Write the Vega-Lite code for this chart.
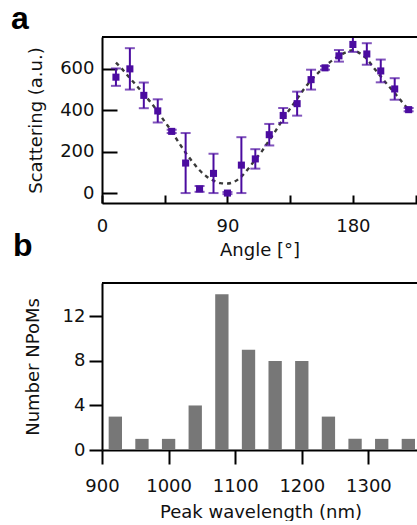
{
  "$schema": "https://vega.github.io/schema/vega-lite/v6.json",
  "background": "white",
  "padding": {"left": 11, "top": 3, "right": 0, "bottom": 0},
  "bounds": "flush",
  "spacing": 80,
  "datasets": {
    "fit": [
      {"angle": 10, "v": 630}, {"angle": 15, "v": 595}, {"angle": 20, "v": 555}, {"angle": 25, "v": 518},
      {"angle": 30, "v": 478}, {"angle": 35, "v": 438}, {"angle": 40, "v": 393}, {"angle": 45, "v": 345},
      {"angle": 50, "v": 298}, {"angle": 55, "v": 245}, {"angle": 60, "v": 195}, {"angle": 65, "v": 150},
      {"angle": 70, "v": 110}, {"angle": 75, "v": 80}, {"angle": 80, "v": 60}, {"angle": 85, "v": 48},
      {"angle": 90, "v": 46}, {"angle": 95, "v": 55}, {"angle": 100, "v": 80}, {"angle": 105, "v": 118},
      {"angle": 110, "v": 162}, {"angle": 115, "v": 205}, {"angle": 120, "v": 255}, {"angle": 125, "v": 305},
      {"angle": 130, "v": 358}, {"angle": 135, "v": 408}, {"angle": 140, "v": 455}, {"angle": 145, "v": 503},
      {"angle": 150, "v": 545}, {"angle": 155, "v": 580}, {"angle": 160, "v": 612}, {"angle": 165, "v": 640},
      {"angle": 170, "v": 662}, {"angle": 175, "v": 680}, {"angle": 180, "v": 690}, {"angle": 185, "v": 675},
      {"angle": 190, "v": 648}, {"angle": 195, "v": 605}, {"angle": 200, "v": 563}, {"angle": 205, "v": 522},
      {"angle": 210, "v": 483}, {"angle": 215, "v": 442}, {"angle": 220, "v": 403}
    ],
    "pts": [
      {"angle": 10, "v": 560, "lo": 518, "hi": 602},
      {"angle": 20, "v": 600, "lo": 500, "hi": 700},
      {"angle": 30, "v": 472, "lo": 410, "hi": 534},
      {"angle": 40, "v": 397, "lo": 341, "hi": 453},
      {"angle": 50, "v": 298, "lo": 290, "hi": 306},
      {"angle": 60, "v": 145, "lo": 0, "hi": 290},
      {"angle": 70, "v": 20, "lo": 6, "hi": 34},
      {"angle": 80, "v": 95, "lo": 0, "hi": 190},
      {"angle": 90, "v": 0, "lo": -5, "hi": 5},
      {"angle": 100, "v": 135, "lo": 0, "hi": 270},
      {"angle": 110, "v": 165, "lo": 118, "hi": 212},
      {"angle": 120, "v": 282, "lo": 230, "hi": 334},
      {"angle": 130, "v": 375, "lo": 339, "hi": 411},
      {"angle": 140, "v": 432, "lo": 374, "hi": 490},
      {"angle": 150, "v": 548, "lo": 500, "hi": 596},
      {"angle": 160, "v": 605, "lo": 596, "hi": 614},
      {"angle": 170, "v": 663, "lo": 635, "hi": 691},
      {"angle": 180, "v": 718, "lo": 682, "hi": 754},
      {"angle": 190, "v": 672, "lo": 620, "hi": 724},
      {"angle": 200, "v": 590, "lo": 535, "hi": 645},
      {"angle": 210, "v": 503, "lo": 451, "hi": 555},
      {"angle": 220, "v": 403, "lo": 395, "hi": 411}
    ],
    "hist": [
      {"start": 910, "end": 930, "n": 3},
      {"start": 950, "end": 970, "n": 1},
      {"start": 990, "end": 1010, "n": 1},
      {"start": 1030, "end": 1050, "n": 4},
      {"start": 1070, "end": 1090, "n": 14},
      {"start": 1110, "end": 1130, "n": 9},
      {"start": 1150, "end": 1170, "n": 8},
      {"start": 1190, "end": 1210, "n": 8},
      {"start": 1230, "end": 1250, "n": 3},
      {"start": 1270, "end": 1290, "n": 1},
      {"start": 1310, "end": 1330, "n": 1},
      {"start": 1350, "end": 1370, "n": 1}
    ]
  },
  "vconcat": [
    {
      "width": 315,
      "height": 166,
      "title": {"text": "a", "anchor": "start", "frame": "group", "dx": -91, "fontSize": 32, "fontWeight": "bold", "font": "Liberation Sans", "color": "black", "offset": 0},
      "layer": [
        {
          "data": {"name": "fit"},
          "mark": {"type": "line", "color": "#3a3a3a", "strokeWidth": 2.4, "strokeDash": [4, 4], "interpolate": "monotone", "clip": true},
          "encoding": {
            "x": {"field": "angle", "type": "quantitative", "scale": {"domain": [0, 226], "nice": false, "zero": false},
              "axis": {"title": "Angle [°]", "values": [0, 45, 90, 135, 180, 225], "labelExpr": "datum.value % 90 === 0 ? datum.label : ''", "tickSize": -8, "labelPadding": 22, "titlePadding": 6}},
            "y": {"field": "v", "type": "quantitative", "title": "Scattering (a.u.)", "scale": {"domain": [-48, 754], "nice": false, "zero": false},
              "axis": {"values": [0, 200, 400, 600], "tickSize": -15, "labelPadding": 23, "titlePadding": 14}}
          }
        },
        {
          "data": {"name": "pts"},
          "mark": {"type": "errorbar", "color": "#4b0ca0", "thickness": 2, "ticks": {"size": 10, "thickness": 2, "color": "#4b0ca0"}, "clip": true},
          "encoding": {
            "x": {"field": "angle", "type": "quantitative"},
            "y": {"field": "lo", "type": "quantitative", "title": "Scattering (a.u.)"},
            "y2": {"field": "hi"}
          }
        },
        {
          "data": {"name": "pts"},
          "mark": {"type": "square", "color": "#4b0ca0", "opacity": 1, "size": 50, "clip": true},
          "encoding": {
            "x": {"field": "angle", "type": "quantitative"},
            "y": {"field": "v", "type": "quantitative", "title": "Scattering (a.u.)"}
          }
        },
        {
          "data": {"values": [{}]},
          "mark": {"type": "rule", "color": "black", "strokeWidth": 2},
          "encoding": {"y": {"datum": 754}}
        }
      ]
    },
    {
      "width": 317,
      "height": 167,
      "title": {"text": "b", "anchor": "start", "frame": "group", "dx": -89, "fontSize": 32, "fontWeight": "bold", "font": "Liberation Sans", "color": "black", "offset": 19},
      "layer": [
        {
          "data": {"name": "hist"},
          "mark": {"type": "bar", "color": "#777777"},
          "encoding": {
            "x": {"field": "start", "type": "quantitative", "title": "Peak wavelength (nm)", "scale": {"domain": [900, 1376], "nice": false, "zero": false},
              "axis": {"values": [900, 1000, 1100, 1200, 1300], "format": "d", "tickSize": 14, "labelPadding": 13, "titlePadding": 8}},
            "x2": {"field": "end"},
            "y": {"field": "n", "type": "quantitative", "title": "Number NPoMs", "scale": {"domain": [0, 15], "nice": false},
              "axis": {"values": [0, 2, 4, 6, 8, 10, 12, 14], "labelExpr": "datum.value % 4 === 0 ? datum.label : ''",
                "tickSize": {"condition": {"test": "datum.value % 4 === 0", "value": 13}, "value": 9}, "labelPadding": 4, "titlePadding": 20}},
            "y2": {"datum": 0}
          }
        },
        {
          "data": {"values": [{}]},
          "mark": {"type": "rule", "color": "black", "strokeWidth": 2},
          "encoding": {"y": {"datum": 15}}
        }
      ]
    }
  ],
  "config": {
    "view": {"stroke": null},
    "font": "DejaVu Sans",
    "axis": {
      "grid": false,
      "domainColor": "black",
      "domainWidth": 2,
      "tickColor": "black",
      "tickWidth": 2,
      "labelFont": "DejaVu Sans",
      "labelFontSize": 18,
      "labelColor": "#111111",
      "titleFont": "DejaVu Sans",
      "titleFontSize": 18,
      "titleFontWeight": "normal",
      "titleColor": "#111111",
      "labelFlush": false,
      "labelOverlap": false
    }
  }
}
